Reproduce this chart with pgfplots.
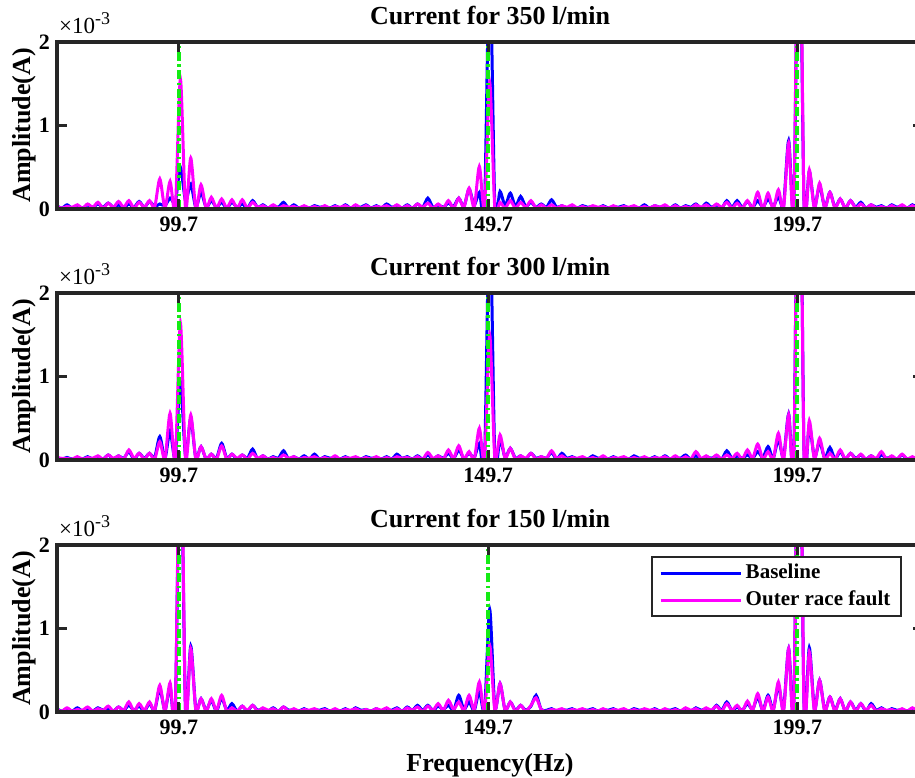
\documentclass[border=0pt]{standalone}
\usepackage{pgfplots}
\pgfplotsset{compat=1.18}
\usepackage{pgfplotstable}
\usepackage{fontspec}
\setmainfont{Liberation Serif}
\definecolor{mgreen}{RGB}{20,235,20}
\definecolor{axgray}{RGB}{38,38,38}
\definecolor{pblue}{RGB}{0,0,255}
\definecolor{pmag}{RGB}{255,0,255}

\pgfplotstableread{
x b1 m1 b2 m2 b3 m3
79.95 .04 .03 .03 .03 .04 .03
80.78 .01 .01 .01 .02 .01 .01
81.62 .05 .03 .03 .02 .04 .05
82.45 .01 .02 .01 .01 .01 .01
83.28 .04 .05 .02 .04 .05 .03
84.12 .01 .01 .01 .01 .01 .02
84.95 .05 .06 .04 .03 .03 .06
85.78 .02 .02 .01 .02 .01 .01
86.62 .06 .08 .03 .05 .05 .04
87.45 .02 .01 .01 .01 .02 .02
88.28 .07 .07 .06 .06 .04 .07
89.12 .02 .02 .01 .02 .01 .01
89.95 .05 .09 .05 .05 .06 .06
90.78 .01 .02 .02 .01 .02 .02
91.62 .06 .10 .10 .12 .08 .12
92.45 .02 .01 .01 .02 .02 .01
93.28 .09 .08 .08 .08 .07 .10
94.12 .02 .02 .02 .01 .01 .02
94.95 .09 .10 .08 .08 .10 .12
95.78 .03 .02 .03 .01 .02 .02
96.62 .06 .36 .28 .22 .28 .32
97.45 .04 .01 .02 .01 .02 .01
98.28 .13 .33 .35 .56 .30 .35
99.12 .08 .00 .02 .00 .02 .00
99.95 .50 1.56 .94 1.64 3.50 3.80
100.78 .10 .00 .05 .00 .02 .00
101.62 .30 .61 .50 .54 .79 .76
102.45 .02 .00 .02 .01 .03 .02
103.28 .20 .29 .16 .16 .16 .16
104.12 .02 .01 .01 .01 .02 .01
104.95 .10 .14 .07 .07 .14 .16
105.78 .02 .01 .02 .01 .01 .02
106.62 .08 .12 .20 .17 .17 .20
107.45 .01 .01 .02 .01 .02 .01
108.28 .08 .11 .07 .07 .10 .05
109.12 .02 .01 .01 .02 .01 .01
109.95 .06 .11 .06 .06 .07 .07
110.78 .01 .01 .02 .01 .01 .02
111.62 .10 .08 .13 .08 .08 .08
112.45 .02 .02 .01 .02 .02 .01
113.28 .05 .04 .05 .05 .04 .05
114.12 .01 .01 .01 .01 .01 .02
114.95 .04 .05 .04 .03 .05 .04
115.78 .02 .01 .02 .01 .01 .01
116.62 .08 .04 .11 .06 .06 .06
117.45 .01 .02 .01 .02 .02 .01
118.28 .05 .03 .04 .04 .03 .04
119.12 .01 .01 .01 .01 .01 .01
119.95 .03 .04 .05 .03 .04 .03
120.78 .01 .01 .01 .02 .01 .02
121.62 .04 .03 .07 .04 .03 .04
122.45 .02 .01 .01 .01 .02 .01
123.28 .03 .04 .04 .03 .04 .03
124.12 .01 .01 .02 .01 .01 .01
124.95 .04 .03 .03 .05 .03 .04
125.78 .01 .02 .01 .01 .01 .01
126.62 .05 .04 .04 .03 .04 .03
127.45 .01 .01 .01 .02 .01 .02
128.28 .03 .05 .03 .04 .05 .04
129.12 .02 .01 .01 .01 .02 .01
129.95 .05 .04 .04 .03 .03 .03
130.78 .01 .01 .02 .01 .01 .01
131.62 .04 .03 .03 .04 .04 .04
132.45 .01 .02 .01 .01 .01 .02
133.28 .06 .04 .04 .03 .03 .05
134.12 .02 .01 .01 .01 .02 .01
134.95 .04 .05 .07 .04 .05 .04
135.78 .01 .01 .02 .02 .01 .01
136.62 .05 .04 .04 .03 .06 .05
137.45 .01 .01 .01 .01 .02 .02
138.28 .06 .06 .05 .04 .08 .06
139.12 .02 .02 .01 .01 .02 .01
139.95 .13 .07 .06 .09 .08 .07
140.78 .02 .01 .01 .02 .02 .02
141.62 .05 .06 .05 .05 .07 .10
142.45 .02 .01 .02 .01 .03 .02
143.28 .07 .10 .08 .12 .08 .14
144.12 .03 .01 .02 .02 .02 .03
144.95 .13 .13 .12 .17 .20 .12
145.78 .03 .02 .02 .01 .03 .02
146.62 .24 .25 .08 .10 .12 .20
147.45 .05 .02 .03 .01 .02 .03
148.28 .20 .51 .20 .38 .25 .36
149.12 .05 .00 .03 .00 .03 .00
149.95 3.00 1.52 3.00 1.50 1.23 .80
150.78 .05 .01 .05 .02 .05 .02
151.62 .21 .08 .25 .30 .34 .34
152.45 .04 .01 .03 .02 .02 .02
153.28 .19 .10 .14 .14 .12 .12
154.12 .03 .01 .02 .01 .02 .01
154.95 .15 .08 .05 .05 .08 .08
155.78 .03 .02 .01 .02 .02 .01
156.62 .08 .10 .08 .08 .07 .08
157.45 .02 .01 .02 .01 .20 .17
158.28 .06 .05 .04 .04 .03 .03
159.12 .02 .01 .02 .02 .02 .01
159.95 .11 .05 .09 .11 .04 .03
160.78 .02 .01 .01 .02 .01 .02
161.62 .04 .04 .08 .05 .03 .04
162.45 .01 .02 .02 .01 .02 .01
163.28 .03 .05 .04 .03 .04 .03
164.12 .01 .01 .01 .02 .01 .02
164.95 .04 .03 .03 .04 .03 .04
165.78 .02 .01 .01 .01 .02 .01
166.62 .03 .04 .05 .03 .04 .03
167.45 .01 .02 .02 .01 .01 .01
168.28 .04 .03 .03 .05 .03 .04
169.12 .01 .01 .01 .01 .02 .01
169.95 .03 .04 .04 .03 .04 .03
170.78 .02 .01 .01 .02 .01 .02
171.62 .04 .03 .03 .04 .03 .04
172.45 .01 .02 .01 .01 .01 .01
173.28 .03 .04 .05 .03 .04 .03
174.12 .01 .01 .02 .01 .02 .01
174.95 .05 .03 .03 .04 .03 .04
175.78 .01 .01 .01 .01 .01 .02
176.62 .04 .04 .04 .03 .04 .03
177.45 .02 .02 .01 .02 .01 .01
178.28 .03 .05 .05 .04 .03 .04
179.12 .01 .01 .01 .01 .02 .01
179.95 .05 .04 .03 .05 .04 .03
180.78 .01 .01 .02 .01 .01 .01
181.62 .04 .03 .06 .04 .03 .05
182.45 .02 .01 .01 .01 .01 .02
183.28 .06 .05 .05 .10 .05 .04
184.12 .01 .02 .01 .02 .02 .01
184.95 .07 .05 .04 .05 .04 .05
185.78 .02 .01 .02 .01 .01 .02
186.62 .05 .06 .05 .06 .08 .07
187.45 .01 .02 .01 .01 .02 .01
188.28 .10 .08 .11 .06 .12 .10
189.12 .02 .01 .02 .02 .02 .02
189.95 .10 .07 .05 .08 .06 .08
190.78 .02 .01 .02 .01 .02 .01
191.62 .09 .10 .06 .12 .10 .13
192.45 .02 .01 .02 .02 .03 .02
193.28 .10 .20 .10 .19 .18 .22
194.12 .02 .00 .03 .01 .02 .01
194.95 .12 .19 .16 .10 .20 .18
195.78 .03 .00 .02 .01 .03 .01
196.62 .15 .23 .25 .32 .32 .36
197.45 .04 .00 .03 .00 .04 .00
198.28 .82 .79 .55 .54 .76 .76
199.12 .05 .00 .05 .00 .10 .00
199.95 4.00 4.50 5.00 5.00 4.50 5.00
200.78 .05 .00 .05 .00 .05 .00
201.62 .45 .47 .42 .47 .77 .72
202.45 .03 .00 .03 .01 .03 .01
203.28 .28 .31 .22 .26 .38 .38
204.12 .02 .01 .02 .01 .02 .01
204.95 .20 .20 .15 .08 .18 .18
205.78 .02 .01 .01 .01 .02 .01
206.62 .12 .12 .10 .12 .16 .16
207.45 .01 .01 .01 .01 .01 .01
208.28 .10 .10 .08 .08 .12 .12
209.12 .02 .01 .02 .01 .02 .01
209.95 .08 .06 .06 .07 .10 .10
210.78 .01 .01 .01 .01 .01 .02
211.62 .05 .05 .05 .05 .10 .08
212.45 .02 .01 .01 .02 .02 .01
213.28 .04 .03 .06 .10 .05 .04
214.12 .01 .01 .02 .01 .01 .02
214.95 .05 .04 .04 .05 .04 .03
215.78 .02 .01 .01 .01 .02 .01
216.62 .04 .05 .06 .07 .03 .04
217.45 .01 .01 .01 .01 .01 .01
218.28 .05 .04 .03 .04 .04 .05
219.12 .02 .01 .02 .01 .01 .01
219.95 .04 .03 .05 .04 .05 .04
}\spec

\pgfplotsset{
  panel/.style={
    scale only axis, width=866pt, height=167pt,
    anchor=south west,
    xmin=80, xmax=220, ymin=0, ymax=2,
    xtick={99.7,149.7,199.7}, xticklabels={99.7,149.7,199.7},
    ytick={0,1,2}, yticklabels={0,1,2},
    tick align=inside, major tick length=10pt,
    major tick style={axgray, line width=3pt},
    axis line style={axgray, line width=3.2pt},
    tick label style={font=\fontsize{22}{22}\selectfont\bfseries},
    xticklabel style={anchor=base, yshift=-23pt},
    yticklabel style={anchor=east, inner sep=0pt, xshift=-7pt},
    title style={at={(axis description cs:0.5,1)}, anchor=base, yshift=11pt,
      font=\fontsize{26}{26}\selectfont\bfseries},
    ylabel style={at={(axis description cs:-0.038,0.5)}, anchor=center, rotate=0,
      font=\fontsize{26}{26}\selectfont\bfseries},
    ylabel={Amplitude(A)},
    axis on top,
    clip=true, clip mode=individual,
  },
}
\tikzset{
  blu/.style={draw=pblue, line width=3pt, smooth, tension=0.45},
  mag/.style={draw=pmag, line width=3pt, smooth, tension=0.45},
  grn/.style={draw=mgreen, line width=4pt, dash pattern=on 9pt off 3.5pt on 2.5pt off 3.5pt},
}
\newcommand{\expo}{\node[anchor=base west, inner sep=0pt, xshift=2pt, yshift=8pt] at (rel axis cs:0,1) {\fontsize{23}{24}\selectfont ×10\raisebox{9pt}{\fontsize{18}{18}\selectfont -3}};}

\begin{document}
\begin{tikzpicture}
\begin{axis}[panel, at={(57pt,569pt)}, title={Current for 350 l/min}]
\addplot[blu] table[x=x,y=b1]{\spec};
\addplot[mag] table[x=x,y=m1]{\spec};
\addplot[grn, forget plot] coordinates {(99.7,0) (99.7,2)};
\addplot[grn, forget plot] coordinates {(149.7,0) (149.7,2)};
\addplot[grn, forget plot] coordinates {(199.7,0) (199.7,2)};
\expo
\end{axis}
\begin{axis}[panel, at={(57pt,318pt)}, title={Current for 300 l/min}]
\addplot[blu] table[x=x,y=b2]{\spec};
\addplot[mag] table[x=x,y=m2]{\spec};
\addplot[grn, forget plot] coordinates {(99.7,0) (99.7,2)};
\addplot[grn, forget plot] coordinates {(149.7,0) (149.7,2)};
\addplot[grn, forget plot] coordinates {(199.7,0) (199.7,2)};
\expo
\end{axis}
\begin{axis}[panel, at={(57pt,66pt)}, title={Current for 150 l/min},
  xlabel={Frequency(Hz)},
  xlabel style={at={(axis description cs:0.5,-0.317)}, anchor=center,
    font=\fontsize{26}{26}\selectfont\bfseries},
  legend style={at={(0.9757,0.934)}, anchor=north east, draw=axgray, line width=2.2pt,
    fill=white, font=\fontsize{21}{21}\selectfont\bfseries,
    inner xsep=7pt, inner ysep=3pt, row sep=1pt,
    nodes={inner sep=3.5pt, text height=15pt, text depth=4pt}},
  legend cell align=left,
  legend image code/.code={\draw[#1, sharp plot] (0pt,0pt) -- (80pt,0pt);}]
\addplot[blu] table[x=x,y=b3]{\spec};
\addlegendentry{Baseline}
\addplot[mag] table[x=x,y=m3]{\spec};
\addlegendentry{Outer race fault}
\addplot[grn, forget plot] coordinates {(99.7,0) (99.7,2)};
\addplot[grn, forget plot] coordinates {(149.7,0) (149.7,2)};
\addplot[grn, forget plot] coordinates {(199.7,0) (199.7,2)};
\expo
\end{axis}
\pgfresetboundingbox
\path[use as bounding box] (0pt,0pt) rectangle (915pt,778pt);
\end{tikzpicture}
\end{document}
